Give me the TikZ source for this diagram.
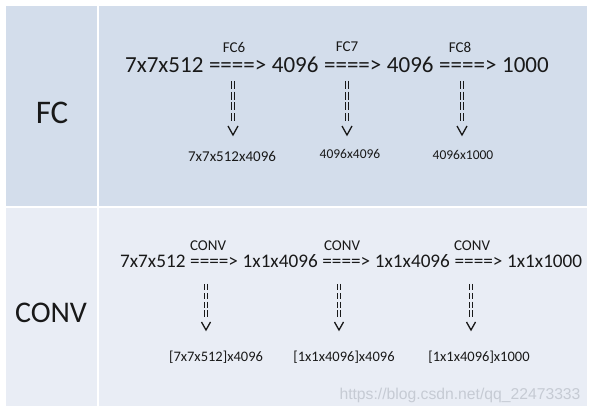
\documentclass[tikz,border=0pt]{standalone}
\usepackage{fontspec}
\setmainfont{Carlito}
\newfontfamily\wmfont{Liberation Sans}
\definecolor{rowA}{RGB}{211,221,235}
\definecolor{rowB}{RGB}{233,237,245}
\definecolor{ink}{RGB}{25,25,25}
\definecolor{wmark}{RGB}{198,203,212}
\tikzset{
  cellA/.style={fill=rowA,draw=white,line width=1.6pt},
  cellB/.style={fill=rowB,draw=white,line width=1.6pt},
  maintop/.style={inner sep=0pt,anchor=base west,text=ink,font=\fontsize{23}{27}\selectfont},
  mainbot/.style={inner sep=0pt,anchor=base west,text=ink,font=\fontsize{19.2}{23}\selectfont},
  oplabel/.style={inner sep=0pt,text=ink,font=\fontsize{15}{18}\selectfont},
  wlabel/.style={inner sep=0pt,text=ink,font=\fontsize{#1}{17}\selectfont},
  rowlabel/.style={inner sep=0pt,text=ink,font=\fontsize{#1}{36}\selectfont},
  shaftA/.style={draw=ink,line width=1.2pt,double=rowA,double distance=2.4pt,dash pattern=on 8pt off 2.7pt},
  shaftB/.style={draw=ink,line width=1.2pt,double=rowB,double distance=2.4pt,dash pattern=on 6.5pt off 2.3pt},
  vtip/.style={draw=ink,line width=1.3pt,line join=miter},
}
\begin{document}
\begin{tikzpicture}[x=1pt,y=-1pt]
\useasboundingbox (0,0) rectangle (592,414);
\fill[white] (0,0) rectangle (592,414);
% table cells
\path[cellA] (5,5) rectangle (98,207);
\path[cellA] (98,5) rectangle (588,207);
\path[cellB] (5,207) rectangle (98,407);
\path[cellB] (98,207) rectangle (588,407);
% row labels
\node[rowlabel=33] (fc) at (52,113) {FC};
\node[rowlabel=30] (conv) at (51,313) {CONV};
% ---- FC row main line
\node[maintop] (t1) at (125,73) {7x7x512};
\node[maintop] (t2) at ([xshift=5.2pt]t1.base east) {====>};
\node[maintop] (t3) at ([xshift=5.2pt]t2.base east) {4096};
\node[maintop] (t4) at ([xshift=5.2pt]t3.base east) {====>};
\node[maintop] (t5) at ([xshift=5.2pt]t4.base east) {4096};
\node[maintop] (t6) at ([xshift=5.2pt]t5.base east) {====>};
\node[maintop] (t7) at ([xshift=5.2pt]t6.base east) {1000};
\node[oplabel] (fc6) at (234,47) {FC6};
\node[oplabel] (fc7) at (347,47) {FC7};
\node[oplabel] (fc8) at (460,47) {FC8};
\node[wlabel=15] (w1) at (232,156) {7x7x512x4096};
\node[wlabel=13.5] (w2) at (350,154) {4096x4096};
\node[wlabel=13.5] (w3) at (463,155) {4096x1000};
% FC row vertical arrows
\foreach \n/\x in {a1/233,a2/347,a3/462}{
  \coordinate (\n s) at (\x,81);
  \coordinate (\n m) at (\x,121);
  \coordinate (\n e) at (\x,135);
  \draw[shaftA] (\n s) -- (\n m);
  \draw[vtip] ([xshift=-5pt,yshift=9pt]\n e) -- (\n e) -- ([xshift=5pt,yshift=9pt]\n e);
}
% ---- CONV row main line
\node[mainbot] (b1) at (120,268) {7x7x512};
\node[mainbot] (b2) at ([xshift=4.3pt]b1.base east) {====>};
\node[mainbot] (b3) at ([xshift=4.3pt]b2.base east) {1x1x4096};
\node[mainbot] (b4) at ([xshift=4.3pt]b3.base east) {====>};
\node[mainbot] (b5) at ([xshift=4.3pt]b4.base east) {1x1x4096};
\node[mainbot] (b6) at ([xshift=4.3pt]b5.base east) {====>};
\node[mainbot] (b7) at ([xshift=4.3pt]b6.base east) {1x1x1000};
\node[oplabel] (cv1) at (208,246) {CONV};
\node[oplabel] (cv2) at (342,246) {CONV};
\node[oplabel] (cv3) at (472,246) {CONV};
\node[wlabel=14.5] (v1) at (216,357) {[7x7x512]x4096};
\node[wlabel=14.5] (v2) at (344,357) {[1x1x4096]x4096};
\node[wlabel=14.5] (v3) at (479,357) {[1x1x4096]x1000};
% CONV row vertical arrows
\foreach \n/\x in {c1/206,c2/339,c3/471}{
  \coordinate (\n s) at (\x,284);
  \coordinate (\n m) at (\x,317);
  \coordinate (\n e) at (\x,330);
  \draw[shaftB] (\n s) -- (\n m);
  \draw[vtip] ([xshift=-4.5pt,yshift=8pt]\n e) -- (\n e) -- ([xshift=4.5pt,yshift=8pt]\n e);
}
% watermark
\node[inner sep=0pt,text=wmark,font=\wmfont\fontsize{15.7}{18}\selectfont] (wm) at (460,395) {https://blog.csdn.net/qq\_22473333};
\end{tikzpicture}
\end{document}
